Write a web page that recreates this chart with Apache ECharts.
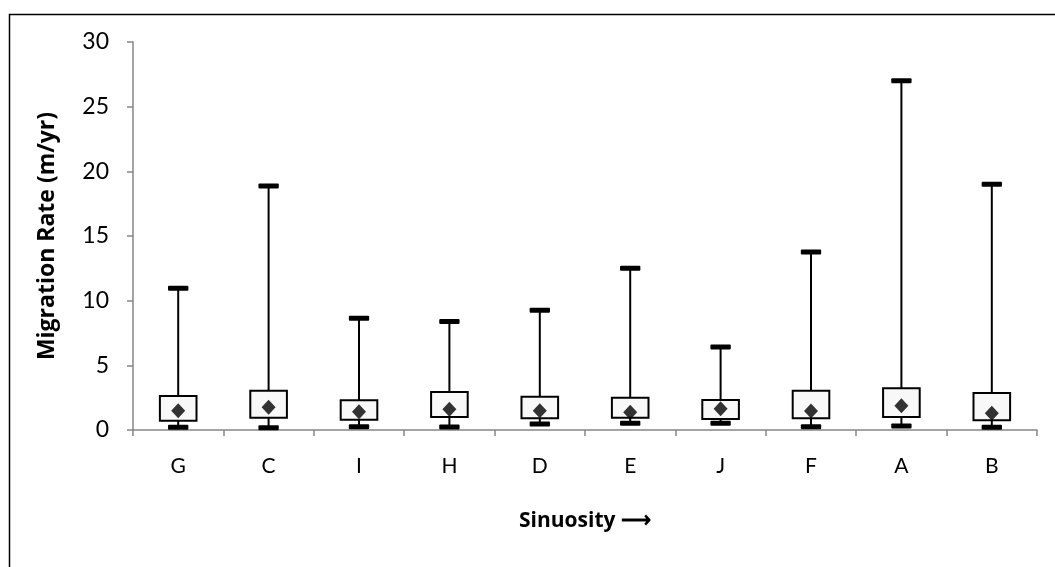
<!DOCTYPE html>
<html>
<head>
<meta charset="utf-8">
<script src="https://cdn.jsdelivr.net/npm/echarts@6/dist/echarts.min.js"></script>
<style>
html,body{margin:0;padding:0;background:#fff;}
#main{width:1055px;height:567px;}
</style>
</head>
<body>
<div id="main"></div>
<script>
const categories = ['G','C','I','H','D','E','J','F','A','B'];
const minVals  = [0.21, 0.18, 0.26, 0.23, 0.46, 0.52, 0.52, 0.26, 0.31, 0.21];
const q1Vals   = [0.72, 0.95, 0.80, 1.00, 0.90, 0.95, 0.85, 0.90, 1.00, 0.75];
const q3Vals   = [2.63, 3.04, 2.30, 2.94, 2.58, 2.50, 2.32, 3.04, 3.22, 2.86];
const maxVals  = [10.96, 18.87, 8.64, 8.38, 9.26, 12.5, 6.42, 13.77, 27.0, 19.0];
const meanVals = [1.49, 1.75, 1.42, 1.60, 1.49, 1.37, 1.65, 1.47, 1.88, 1.29];
const yTicks = { min: 0, max: 30, interval: 5 };

const boxData = categories.map((c, i) => [i, minVals[i], q1Vals[i], q3Vals[i], maxVals[i]]);
const meanData = categories.map((c, i) => [i, meanVals[i]]);

const font = 'Lato, "Open Sans", "Liberation Sans", sans-serif';
const titleFont = '"Open Sans", Lato, sans-serif';

const chart = echarts.init(document.getElementById('main'), null, { renderer: 'canvas' });
chart.setOption({
  animation: false,
  backgroundColor: '#ffffff',
  graphic: [{
    type: 'rect',
    left: 7, top: 12,
    shape: { width: 1070, height: 580 },
    style: { fill: 'none', stroke: '#000', lineWidth: 1.5 },
    silent: true
  }],
  grid: { left: 133, right: 18, top: 42, bottom: 137, containLabel: false },
  xAxis: {
    type: 'category',
    data: categories,
    boundaryGap: true,
    axisLine: { lineStyle: { color: '#868686', width: 1.5 } },
    axisTick: { show: true, length: 6, inside: false, alignWithLabel: false, lineStyle: { color: '#868686', width: 1.5 } },
    axisLabel: { color: '#000', fontSize: 21, fontFamily: font, margin: 26 },
    name: 'Sinuosity \u27F6',
    nameLocation: 'middle',
    nameGap: 81,
    nameTextStyle: { color: '#000', fontSize: 21, fontWeight: 'bold', fontFamily: titleFont }
  },
  yAxis: {
    type: 'value',
    min: yTicks.min, max: yTicks.max, interval: yTicks.interval,
    splitLine: { show: false },
    axisLine: { show: true, lineStyle: { color: '#868686', width: 1.5 } },
    axisTick: { show: true, length: 6, lineStyle: { color: '#868686', width: 1.5 } },
    axisLabel: { color: '#000', fontSize: 23, fontFamily: font, margin: 24 },
    name: 'Migration Rate (m/yr)',
    nameLocation: 'middle',
    nameGap: 74,
    nameTextStyle: { color: '#000', fontSize: 23, fontWeight: 'bold', fontFamily: titleFont }
  },
  series: [
    {
      type: 'custom',
      data: boxData,
      encode: { x: 0, y: [1, 2, 3, 4] },
      renderItem: function (params, api) {
        const x = api.value(0);
        const pMin = api.coord([x, api.value(1)]);
        const pQ1 = api.coord([x, api.value(2)]);
        const pQ3 = api.coord([x, api.value(3)]);
        const pMax = api.coord([x, api.value(4)]);
        const band = api.size([1, 0])[0];
        const bw = band * 0.405;
        const cw = band * 0.225;
        const ch = 5;
        const cx = pQ1[0];
        const ls = { stroke: '#000', lineWidth: 2, fill: 'none' };
        return {
          type: 'group',
          children: [
            { type: 'line', shape: { x1: cx, y1: pQ3[1], x2: cx, y2: pMax[1] }, style: ls },
            { type: 'line', shape: { x1: cx, y1: pQ1[1], x2: cx, y2: pMin[1] }, style: ls },
            { type: 'rect', shape: { x: cx - bw / 2, y: pQ3[1], width: bw, height: pQ1[1] - pQ3[1] },
              style: { fill: '#f8f8f8', stroke: '#000', lineWidth: 2 } },
            { type: 'rect', shape: { x: cx - cw / 2, y: pMax[1] - ch / 2, width: cw, height: ch, r: 1 },
              style: { fill: '#000' } },
            { type: 'rect', shape: { x: cx - cw / 2, y: pMin[1] - ch / 2, width: cw, height: ch, r: 1 },
              style: { fill: '#000' } }
          ]
        };
      },
      z: 2
    },
    {
      type: 'scatter',
      data: meanData,
      symbol: 'diamond',
      symbolSize: [14, 15],
      itemStyle: { color: '#000' },
      z: 3
    }
  ]
});
</script>
</body>
</html>
